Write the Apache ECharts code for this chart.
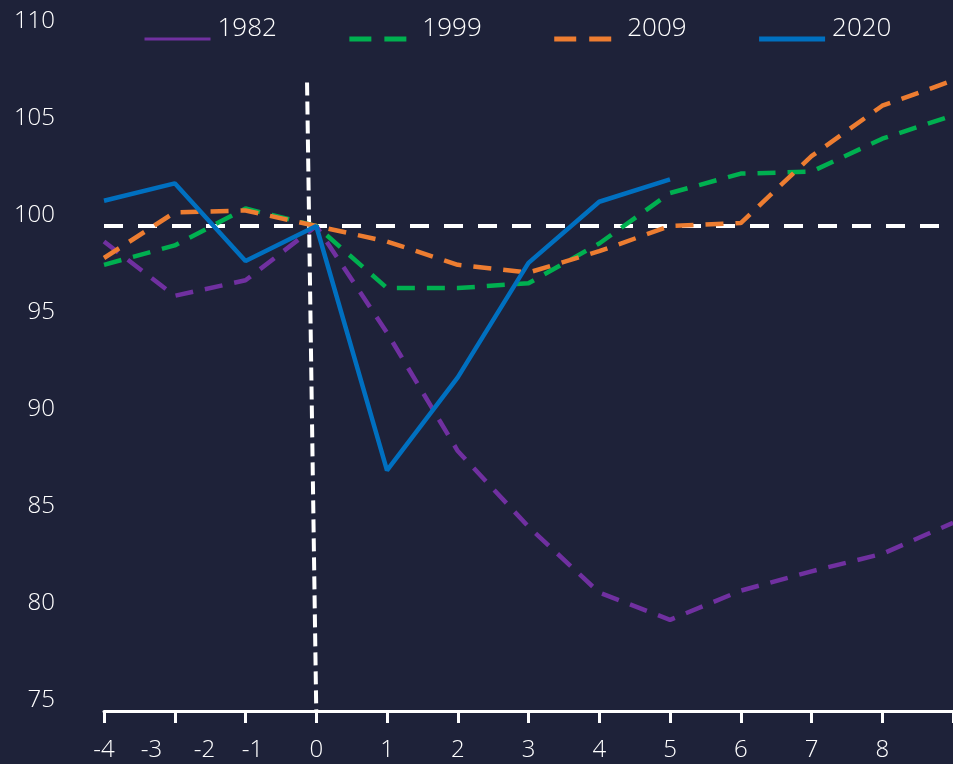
<!DOCTYPE html>
<html>
<head>
<meta charset="utf-8">
<script src="https://cdn.jsdelivr.net/npm/echarts@6/dist/echarts.min.js"></script>
<style>
  html, body { margin: 0; padding: 0; background: #1e2239; }
  #chart { width: 953px; height: 764px; }
</style>
</head>
<body>
<div id="chart"></div>
<script>
// Periods (position along the axis)
const xPos = [-3, -2, -1, 0, 1, 2, 3, 4, 5, 6, 7, 8, 9];
// Series values (index = 100 at the start of the recession)
const s1982 = [99.2, 96.4, 97.2, 100, 94.5, 88.4, 84.5, 81.1, 79.7, 81.2, 82.2, 83.1, 84.7];
const s1999 = [98.0, 99.0, 100.9, 100, 96.8, 96.8, 97.05, 99.1, 101.7, 102.7, 102.8, 104.5, 105.7];
const s2009 = [98.35, 100.7, 100.8, 100, 99.2, 98.0, 97.6, 98.7, 100.0, 100.15, 103.6, 106.2, 107.5];
const s2020 = [101.3, 102.2, 98.2, 100, 87.4, 92.2, 98.1, 101.25, 102.4];
// Tick labels of the x axis and where they sit
const xTickLabels = ['-4', '-3', '-2', '-1', '0', '1', '2', '3', '4', '5', '6', '7', '8'];
const xTickLabelAt = [-3, -2.33, -1.58, -0.9, 0, 1, 2, 3, 4, 5, 6, 7, 8];
const xTicks = [-3, -2, -1, 0, 1, 2, 3, 4, 5, 6, 7, 8, 9];
// Reference lines
const refLevel = 100;
const vLine = [[-0.13, 107.4], [0, 75]];

const pairs = (vals) => vals.map((v, i) => [xPos[i], v]);

const FONT = '"Open Sans", "Noto Sans", sans-serif';
const chart = echarts.init(document.getElementById('chart'));
chart.setOption({
  backgroundColor: '#1e2239',
  animation: false,
  grid: { left: 104, right: 0, top: 32, bottom: 53, containLabel: false },
  legend: {
    left: 143, top: 16, padding: 0,
    itemWidth: 66, itemHeight: 14, itemGap: 70,
    itemStyle: { color: 'rgba(0,0,0,0)', borderColor: 'rgba(0,0,0,0)', borderWidth: 0 },
    formatter: (name) => '{t|' + name + '}',
    textStyle: {
      color: '#ffffff', fontSize: 26, fontFamily: FONT, fontWeight: 300,
      rich: { t: { color: '#ffffff', fontSize: 26, fontFamily: FONT, fontWeight: 300, lineHeight: 30, padding: [0, 0, 20, 2] } }
    },
    data: [
      { name: '1982', lineStyle: { type: 'solid', width: 3 } },
      { name: '1999', lineStyle: { type: [22, 13], width: 5 } },
      { name: '2009', lineStyle: { type: [22, 13], width: 5 } },
      { name: '2020', lineStyle: { type: 'solid', width: 5 } }
    ]
  },
  xAxis: {
    type: 'value', min: -3, max: 9,
    splitLine: { show: false },
    axisLine: { show: true, onZero: false, lineStyle: { color: '#ffffff', width: 3 } },
    axisTick: { show: true, length: 12, lineStyle: { color: '#ffffff', width: 3 }, customValues: xTicks },
    axisLabel: {
      customValues: xTickLabelAt,
      color: '#ffffff', fontSize: 24, fontFamily: FONT, fontWeight: 300, margin: 27,
      formatter: (v) => {
        const i = xTickLabelAt.findIndex(p => Math.abs(p - v) < 1e-6);
        return i >= 0 ? xTickLabels[i] : '';
      }
    }
  },
  yAxis: {
    type: 'value', min: 75, max: 110, interval: 5,
    splitLine: { show: false },
    axisLine: { show: false },
    axisTick: { show: false },
    axisLabel: {
      color: '#ffffff', fontSize: 24, fontFamily: FONT, fontWeight: 300,
      margin: 49, verticalAlign: 'bottom', lineHeight: 22
    }
  },
  series: [
    {
      name: 'ref-h', type: 'line', symbol: 'none', silent: true, z: 1,
      data: [[xTicks[0], refLevel], [xTicks[xTicks.length - 1], refLevel]],
      lineStyle: { color: '#ffffff', width: 4, type: [19, 15] }
    },
    {
      name: 'ref-v', type: 'line', symbol: 'none', silent: true, z: 1,
      data: vLine,
      lineStyle: { color: '#ffffff', width: 4, type: [13, 6] }
    },
    {
      name: '1982', type: 'line', symbol: 'none', z: 2,
      data: pairs(s1982),
      itemStyle: { color: '#7030a0' },
      lineStyle: { color: '#7030a0', width: 4.5, type: [18, 12] }
    },
    {
      name: '1999', type: 'line', symbol: 'none', z: 3,
      data: pairs(s1999),
      itemStyle: { color: '#00b050' },
      lineStyle: { color: '#00b050', width: 4.5, type: [18, 12] }
    },
    {
      name: '2009', type: 'line', symbol: 'none', z: 4,
      data: pairs(s2009),
      itemStyle: { color: '#ed7d31' },
      lineStyle: { color: '#ed7d31', width: 4.5, type: [18, 12] }
    },
    {
      name: '2020', type: 'line', symbol: 'none', z: 5,
      data: pairs(s2020),
      itemStyle: { color: '#0070c0' },
      lineStyle: { color: '#0070c0', width: 4.5, type: 'solid' }
    }
  ]
});
</script>
</body>
</html>
